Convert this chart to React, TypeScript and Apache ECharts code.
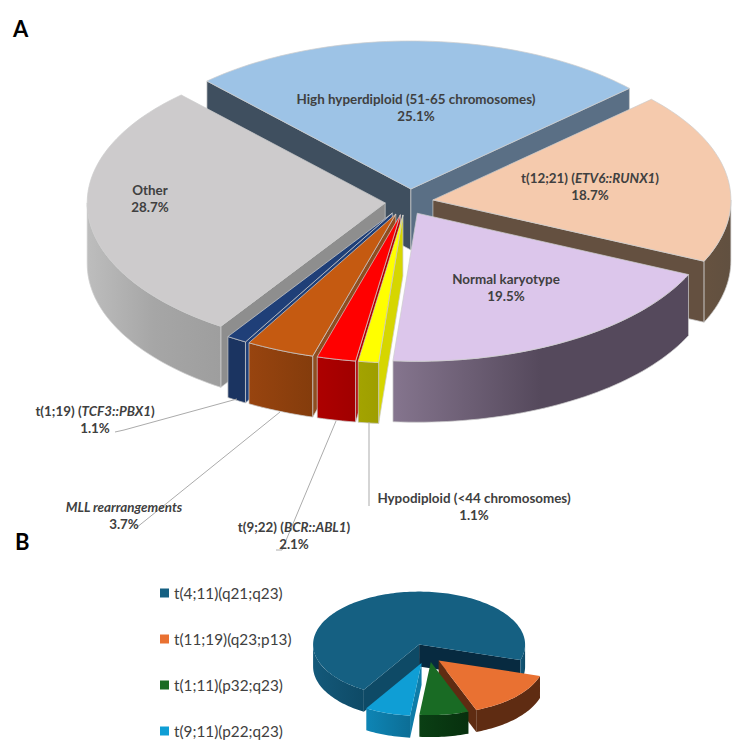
import React, { useEffect, useRef } from "react";
import * as echarts from "echarts";

// ---------- data ----------
const panelANames = [
  "High hyperdiploid (51-65 chromosomes)",
  "t(12;21) (ETV6::RUNX1)",
  "Normal karyotype",
  "Hypodiploid (<44 chromosomes)",
  "t(9;22) (BCR::ABL1)",
  "MLL rearrangements",
  "t(1;19) (TCF3::PBX1)",
  "Other",
];
const panelAValues = [25.1, 18.7, 19.5, 1.1, 2.1, 3.7, 1.1, 28.7];
const panelBNames = ["t(4;11)(q21;q23)", "t(11;19)(q23;p13)", "t(1;11)(p32;q23)", "t(9;11)(p22;q23)"];
const panelBValues = [71, 14.5, 7.5, 7];

// ---------- styles ----------
const panelAStyle = [
  { top: "#9DC3E6", wall0: "#3F4F5F", wall1: "#5A6F85", outer: ["#5A6F85", "#5A6F85"] },
  { top: "#F5CAAD", wall0: "#645040", wall1: "#645040", outer: ["#665240", "#615040"] },
  { top: "#DCC6EB", wall0: "#857590", wall1: "#857590", outer: ["#85758E", "#55495C", "#55495C"] },
  { top: "#FFFF00", wall0: "#D6D600", wall1: "#D6D600", outer: ["#A3A300", "#9E9E00"] },
  { top: "#FF0000", wall0: "#B00000", wall1: "#B00000", outer: ["#AD0000", "#A00000"] },
  { top: "#C55A11", wall0: "#8F4E20", wall1: "#8F4E20", outer: ["#98440F", "#843C0C"] },
  { top: "#1F3F78", wall0: "#1F3F78", wall1: "#1F3F78", outer: ["#1B3461", "#1B3461"] },
  { top: "#CDCBCC", wall0: "#8E8E8E", wall1: "#8E8E8E", outer: ["#BDBDBD", "#A6A6A6", "#9E9E9E"] },
];
const panelBStyle = [
  { top: "#156082", wall0: "#0E4A66", wall1: "#072A40", outer: ["#14597A", "#0E4A66"] },
  { top: "#E97132", wall0: "#5F2C12", wall1: "#5F2C12", outer: ["#5F2C12", "#5F2C12"] },
  { top: "#196B24", wall0: "#0A3A12", wall1: "#0A3A12", outer: ["#0A3F14", "#07300E"] },
  { top: "#0F9ED5", wall0: "#0E7CA8", wall1: "#0E7CA8", outer: ["#0E85B5", "#0C6E96"] },
];

const geoA = {
  cx: 406, cy: 202, rx: 298, ry: 148, depth: 61, start: -43.2,
  explode: [0.088, 0.088, 0.088, 0.088, 0.088, 0.088, 0.088, 0.07],
  nudge: [4, 1, -2, 0, 0, 0, 0, 0],
  order: [0, 1, 7, 6, 5, 4, 3, 2],
  stroke: "rgba(205,205,205,0.9)", strokeWidth: 0.8,
};
const geoB = {
  cx: 427, cy: 655, rx: 106, ry: 53, depth: 22, start: 211.4,
  explode: [0.21, 0.15, 0.135, 0.16],
  nudge: [0, 0, 2, 0],
  order: [0, 1, 3, 2],
  stroke: "none", strokeWidth: 0,
};
const FONT = "Lato, Carlito, sans-serif";
const TXT = "#404040";

function buildSlices(values: number[], g: any) {
  const total = values.reduce((a, b) => a + b, 0);
  let a = g.start;
  return values.map((v, i) => {
    const a0 = a;
    const a1 = a + (v / total) * 360;
    a = a1;
    const mid = (((a0 + a1) / 2) * Math.PI) / 180;
    return {
      a0, a1,
      ox: g.cx + g.nudge[i] + Math.sin(mid) * g.rx * g.explode[i],
      oy: g.cy - Math.cos(mid) * g.ry * g.explode[i],
    };
  });
}

function sliceGroup(s: any, g: any, st: any) {
  const pt = (deg: number, down = 0) => {
    const r = (deg * Math.PI) / 180;
    return [s.ox + Math.sin(r) * g.rx, s.oy - Math.cos(r) * g.ry + down];
  };
  const arc = (from: number, to: number, down = 0) => {
    const n = Math.max(2, Math.ceil(Math.abs(to - from) / 1.5));
    const out: number[][] = [];
    for (let i = 0; i <= n; i++) out.push(pt(from + ((to - from) * i) / n, down));
    return out;
  };
  const stroke = g.stroke === "none" ? undefined : g.stroke;
  const lw = g.strokeWidth;
  const children: any[] = [];
  const cosd = (d: number) => Math.cos((d * Math.PI) / 180);
  const apex = [s.ox, s.oy];
  const apexD = [s.ox, s.oy + g.depth];
  if (cosd(s.a0 - 90) < 0) {
    children.push({
      type: "polygon",
      shape: { points: [apex, pt(s.a0), pt(s.a0, g.depth), apexD] },
      style: { fill: st.wall0, stroke, lineWidth: lw },
    });
  }
  if (cosd(s.a1 + 90) < 0) {
    children.push({
      type: "polygon",
      shape: { points: [apex, pt(s.a1), pt(s.a1, g.depth), apexD] },
      style: { fill: st.wall1, stroke, lineWidth: lw },
    });
  }
  for (const [lo, hi] of [[90, 270], [450, 630], [-270, -90]]) {
    const f = Math.max(lo, s.a0);
    const t = Math.min(hi, s.a1);
    if (t > f) {
      const stops = st.outer.map((c: string, i: number) => ({ offset: i / (st.outer.length - 1), color: c }));
      children.push({
        type: "polygon",
        shape: { points: [...arc(f, t), ...arc(t, f, g.depth)] },
        style: { fill: new echarts.graphic.LinearGradient(0, 0, 1, 0, stops), stroke, lineWidth: lw },
      });
    }
  }
  children.push({
    type: "polygon",
    shape: { points: [apex, ...arc(s.a0, s.a1)] },
    style: { fill: st.top, stroke, lineWidth: lw },
  });
  return { type: "group", children };
}

function panelSeries(names: string[], values: number[], styles: any[], g: any, zBase: number) {
  const slices = buildSlices(values, g);
  return g.order.map((i: number, k: number) => ({
    type: "custom",
    name: names[i],
    coordinateSystem: "none",
    z: zBase + k,
    silent: true,
    itemStyle: { color: styles[i].top },
    data: [[values[i]]],
    renderItem: () => sliceGroup(slices[i], g, styles[i]),
  }));
}

const rich = {
  b: { fontFamily: FONT, fontSize: 13.4, fontWeight: "bold", fill: TXT, color: TXT, lineHeight: 17 },
  i: { fontFamily: FONT, fontSize: 13.4, fontWeight: "bold", fontStyle: "italic", fill: TXT, color: TXT, lineHeight: 17 },
};
const label = (x: number, y: number, parts: string) => ({
  type: "text", x, y, z: 60,
  style: { text: parts, rich, align: "center", verticalAlign: "middle", textAlign: "center", textVerticalAlign: "middle", fontFamily: FONT },
});
const pct = (v: number) => `${v.toFixed(1)}%`;
const leader = (pts: number[][]) => ({
  type: "polyline", z: 50, shape: { points: pts },
  style: { stroke: "#ABABAB", lineWidth: 1, fill: "none" },
});
const letter = (x: number, y: number, t: string) => ({
  type: "text", x, y, z: 60,
  style: { text: t, fontFamily: FONT, fontSize: 22, fontWeight: "bold", fill: "#000" },
});

export default function App() {
  const ref = useRef<HTMLDivElement>(null);
  useEffect(() => {
    document.body.style.margin = "0";
    const chart = echarts.init(ref.current!, undefined, { renderer: "svg" });
    const [hh, etv, nk, hypo, bcr, mll, tcf, other] = panelAValues;
    chart.setOption({
      animation: false,
      backgroundColor: "#fff",
      legend: {
        orient: "vertical", left: 155, top: 579, itemGap: 28, itemWidth: 9, itemHeight: 9, icon: "rect",
        selectedMode: false, data: panelBNames,
        textStyle: { fontFamily: FONT, fontSize: 15.3, color: TXT, height: 18, lineHeight: 18 },
      },
      graphic: [
        letter(13, 17, "A"),
        letter(15, 530, "B"),
        leader([[237, 399], [124, 430], [115, 432]]),
        leader([[280, 412], [136, 528]]),
        leader([[336, 421], [282, 550], [276, 550]]),
        leader([[369, 422], [369, 506]]),
        label(416, 107, `{b|${panelANames[0]}}\n{b|${pct(hh)}}`),
        label(590, 186, `{b|t(12;21) (}{i|ETV6::RUNX1}{b|)}\n{b|${pct(etv)}}`),
        label(506, 287, `{b|${panelANames[2]}}\n{b|${pct(nk)}}`),
        label(150, 198, `{b|${panelANames[7]}}\n{b|${pct(other)}}`),
        label(95, 419, `{b|t(1;19) (}{i|TCF3::PBX1}{b|)}\n{b|${pct(tcf)}}`),
        label(124, 515, `{i|${panelANames[5]}}\n{b|${pct(mll)}}`),
        label(294, 535, `{b|t(9;22) (}{i|BCR::ABL1}{b|)}\n{b|${pct(bcr)}}`),
        label(474, 506, `{b|${panelANames[3]}}\n{b|${pct(hypo)}}`),
      ],
      series: [
        ...panelSeries(panelANames, panelAValues, panelAStyle, geoA, 2),
        ...panelSeries(panelBNames, panelBValues, panelBStyle, { ...geoB, start: 107 - (panelBValues[0] / 100) * 360 }, 20),
      ],
    });
    return () => chart.dispose();
  }, []);
  return <div ref={ref} style={{ position: "fixed", left: 0, top: 0, width: 742, height: 753 }} />;
}
